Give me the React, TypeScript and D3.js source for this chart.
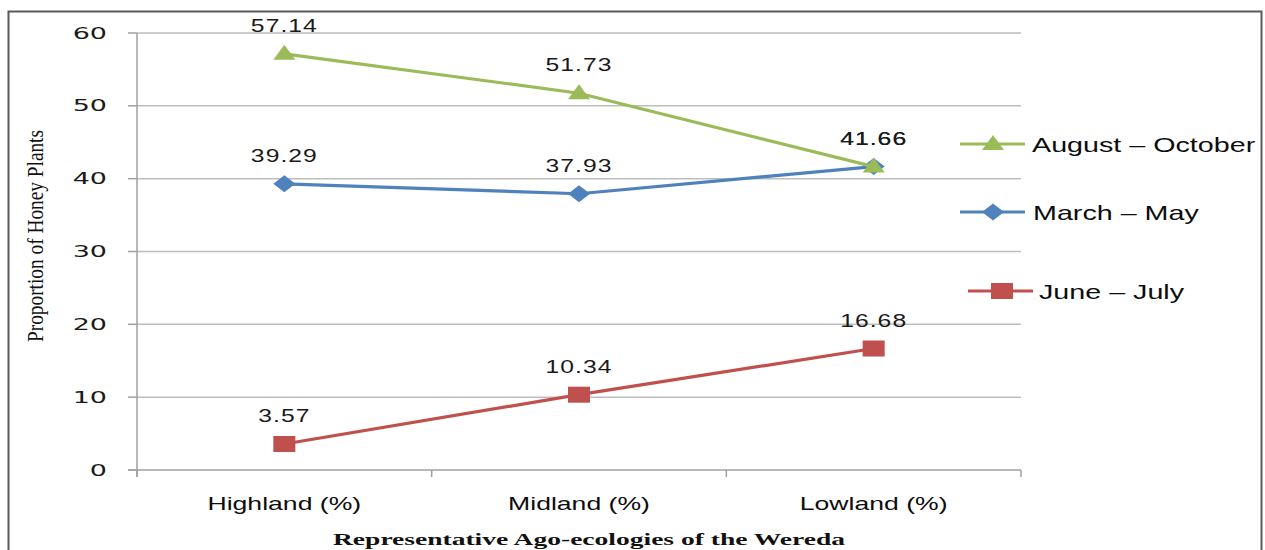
import React from "react";
import * as d3 from "d3";

const categories = ["Highland (%)", "Midland (%)", "Lowland (%)"];
const augOct = [57.14, 51.73, 41.66];
const marMay = [39.29, 37.93, 41.66];
const junJul = [3.57, 10.34, 16.68];
const yTicks = [0, 10, 20, 30, 40, 50, 60];
const seriesNames = ["August – October", "March – May", "June – July"];

const W = 1265, H = 550;
const X0 = 137, X1 = 1021, Y0 = 470, Y60 = 33;

function SText(props: any) {
  const { x, y, sx = 1.35, anchor = "middle", children, ...rest } = props;
  return (
    <text transform={`translate(${x},${y}) scale(${sx},1)`} textAnchor={anchor} {...rest}>
      {children}
    </text>
  );
}

function Marker({ type, x, y, color }: any) {
  if (type === "tri") {
    const p = d3.path();
    p.moveTo(x, y - 9); p.lineTo(x + 11, y + 6); p.lineTo(x - 11, y + 6); p.closePath();
    return <path d={p.toString()} fill={color} />;
  }
  if (type === "dia") {
    const p = d3.path();
    p.moveTo(x, y - 8.5); p.lineTo(x + 11, y); p.lineTo(x, y + 8.5); p.lineTo(x - 11, y); p.closePath();
    return <path d={p.toString()} fill={color} />;
  }
  return <rect x={x - 11} y={y - 8} width={22} height={16} fill={color} />;
}

export default function App() {
  const x = d3.scaleBand<string>().domain(categories).range([X0, X1]);
  const y = d3.scaleLinear().domain([0, 60]).range([Y0, Y60]);
  const cx = (c: string) => (x(c) as number) + x.bandwidth() / 2;
  const line = d3.line<number>().x((_, i) => cx(categories[i])).y((d) => y(d));

  const series = [
    { name: seriesNames[1], data: marMay, color: "#4F81BD", m: "dia" },
    { name: seriesNames[2], data: junJul, color: "#C0504D", m: "sq" },
    { name: seriesNames[0], data: augOct, color: "#9BBB59", m: "tri" },
  ];

  const legend = [
    { name: seriesNames[0], color: "#9BBB59", m: "tri", ly: 144, x1: 960, x2: 1025, mx: 993, tx: 1032 },
    { name: seriesNames[1], color: "#4F81BD", m: "dia", ly: 212, x1: 960, x2: 1025, mx: 993, tx: 1033 },
    { name: seriesNames[2], color: "#C0504D", m: "sq", ly: 291, x1: 968, x2: 1033, mx: 1002, tx: 1039 },
  ];

  const bounds = [X0, ...categories.map((c) => (x(c) as number) + x.bandwidth())];

  return (
    <svg width={W} height={H} style={{ position: "absolute", left: 0, top: 0, background: "#fff" }}>
      <rect x={8.5} y={11.5} width={1253} height={560} fill="#fff" stroke="#5a5a5a" strokeWidth={2} />
      {yTicks.map((t) => (
        <g key={t}>
          {t > 0 && <line x1={X0} x2={X1} y1={y(t)} y2={y(t)} stroke="#bdbdbd" strokeWidth={1.5} />}
          <line x1={128} x2={X0} y1={y(t)} y2={y(t)} stroke="#a0a0a0" strokeWidth={1.5} />
          <SText x={107} y={y(t) + 5.5} sx={1.8} anchor="end" fontFamily="DejaVu Sans" fontSize={15} fill="#1a1a1a">
            {t}
          </SText>
        </g>
      ))}
      <line x1={X0} x2={X0} y1={Y60} y2={Y0 + 7} stroke="#a0a0a0" strokeWidth={1.5} />
      <line x1={128} x2={X1} y1={Y0} y2={Y0} stroke="#a0a0a0" strokeWidth={1.5} />
      {bounds.map((b, i) => (
        <line key={i} x1={b} x2={b} y1={Y0} y2={Y0 + 7} stroke="#a0a0a0" strokeWidth={1.5} />
      ))}
      {categories.map((c) => (
        <SText key={c} x={cx(c)} y={510} sx={1.4} fontFamily="Liberation Sans" fontSize={19} fill="#0d0d0d">
          {c}
        </SText>
      ))}
      {series.map((s) => (
        <g key={s.name}>
          <path d={line(s.data) as string} fill="none" stroke={s.color} strokeWidth={3.2} />
          {s.data.map((v, i) => (
            <Marker key={i} type={s.m} x={cx(categories[i])} y={y(v)} color={s.color} />
          ))}
        </g>
      ))}
      {series.map((s) =>
        s.data.map((v, i) => (
          <SText key={s.name + i} x={cx(categories[i])} y={y(v) - 22} sx={1.3} fontFamily="Liberation Sans" fontSize={19} letterSpacing={0.8} fill="#1a1a1a">
            {v.toFixed(2)}
          </SText>
        ))
      )}
      {legend.map((l) => (
        <g key={l.name}>
          <line x1={l.x1} x2={l.x2} y1={l.ly} y2={l.ly} stroke={l.color} strokeWidth={3.2} />
          <Marker type={l.m} x={l.mx} y={l.ly} color={l.color} />
          <SText x={l.tx} y={l.ly + 7.5} sx={1.4} anchor="start" fontFamily="Liberation Sans" fontSize={20.5} fill="#0d0d0d">
            {l.name}
          </SText>
        </g>
      ))}
      <text transform="translate(43,236) rotate(-90) scale(1,1.25)" textAnchor="middle" fontFamily="Liberation Serif" fontSize={18.5} textLength={212} lengthAdjust="spacingAndGlyphs" fill="#111">
        Proportion of Honey Plants
      </text>
      <text x={589} y={545} textAnchor="middle" fontFamily="Liberation Serif" fontWeight="bold" fontSize={16.5} textLength={512} lengthAdjust="spacingAndGlyphs" fill="#111">
        Representative Ago-ecologies of the Wereda
      </text>
    </svg>
  );
}
